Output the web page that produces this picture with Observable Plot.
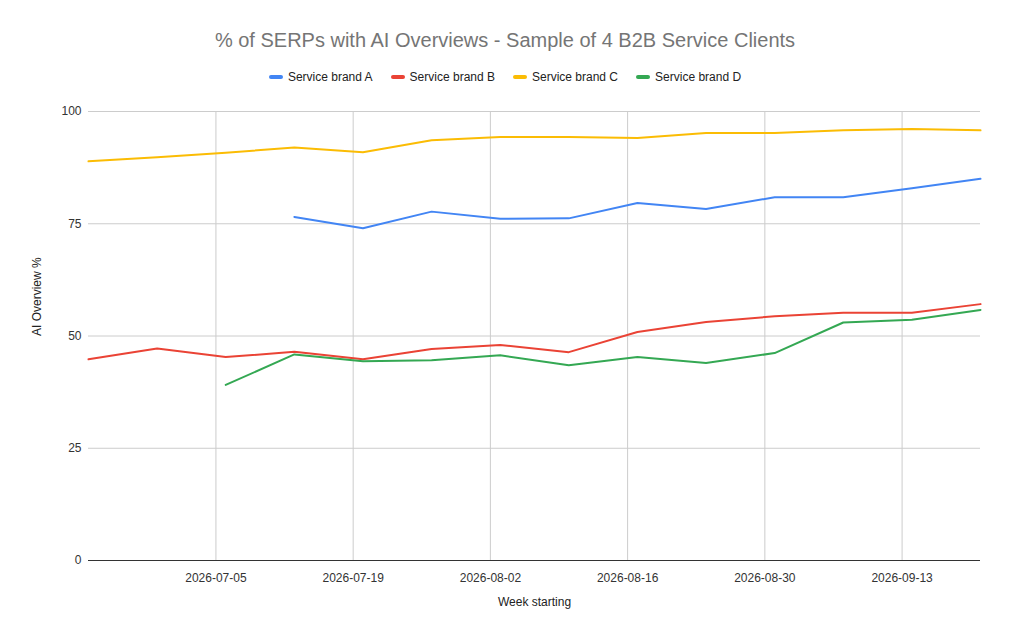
<!DOCTYPE html>
<html>
<head>
<meta charset="utf-8">
<script src="https://cdn.jsdelivr.net/npm/d3@7"></script>
<script src="https://cdn.jsdelivr.net/npm/@observablehq/plot@0.6"></script>
<style>
  html, body { margin: 0; padding: 0; background: #fff; }
  body { width: 1010px; height: 640px; position: relative; overflow: hidden; font-family: "Liberation Sans", Arial, sans-serif; }
  #title { position: absolute; left: 0; top: 28px; width: 1010px; text-align: center; font-size: 20px; line-height: 24px; color: #757575; }
  #legend { position: absolute; left: 0; top: 69px; width: 1010px; display: flex; justify-content: center; font-size: 12px; line-height: 16px; color: #222; }
  #legend .item { display: flex; align-items: center; margin: 0 9px; }
  #legend .sw { width: 14px; height: 4px; border-radius: 2px; margin-right: 5px; }
  #chart { position: absolute; left: 0; top: 95px; }
</style>
</head>
<body>
<div id="title">% of SERPs with AI Overviews - Sample of 4 B2B Service Clients</div>
<div id="legend"></div>
<div id="chart"></div>
<script>
const weeks = ["2026-06-22","2026-06-29","2026-07-06","2026-07-13","2026-07-20","2026-07-27","2026-08-03","2026-08-10","2026-08-17","2026-08-24","2026-08-31","2026-09-07","2026-09-14","2026-09-21"];
const seriesNames = ["Service brand A","Service brand B","Service brand C","Service brand D"];
const seriesColors = ["#4285F4","#EA4335","#FBBC04","#34A853"];
const brandA = [null, null, null, 76.5, 74.0, 77.7, 76.1, 76.2, 79.6, 78.3, 80.9, 80.9, 82.9, 85.0];
const brandB = [44.8, 47.2, 45.3, 46.5, 44.8, 47.1, 48.0, 46.4, 50.9, 53.1, 54.4, 55.2, 55.2, 57.1];
const brandC = [88.9, 89.8, 90.8, 92.0, 90.9, 93.6, 94.3, 94.3, 94.1, 95.2, 95.2, 95.8, 96.1, 95.8];
const brandD = [null, null, 39.1, 45.9, 44.4, 44.6, 45.7, 43.5, 45.3, 44.0, 46.2, 53.0, 53.6, 55.8];
const xTickLabels = ["2026-07-05","2026-07-19","2026-08-02","2026-08-16","2026-08-30","2026-09-13"];
const yTicks = [0, 25, 50, 75, 100];
const xDomain = ["2026-06-22", "2026-09-21"];

const seriesValues = [brandA, brandB, brandC, brandD];
const data = [];
seriesValues.forEach((vals, i) => {
  vals.forEach((v, j) => {
    data.push({series: seriesNames[i], date: new Date(weeks[j]), value: v});
  });
});
const xTicks = xTickLabels.map(d => new Date(d));

// legend
const legend = document.getElementById("legend");
seriesNames.forEach((n, i) => {
  const it = document.createElement("div");
  it.className = "item";
  it.innerHTML = `<span class="sw" style="background:${seriesColors[i]}"></span><span>${n}</span>`;
  legend.appendChild(it);
});

const fmt = d3.utcFormat("%Y-%m-%d");
const chart = Plot.plot({
  width: 1010,
  height: 545,
  marginTop: 16,
  marginBottom: 80,
  marginLeft: 88,
  marginRight: 30,
  style: {fontFamily: "'Liberation Sans', Arial, sans-serif", fontSize: "12px", color: "#333", background: "#fff"},
  x: {type: "utc", domain: xDomain.map(d => new Date(d))},
  y: {domain: [0, 100]},
  color: {domain: seriesNames, range: seriesColors},
  marks: [
    Plot.gridX(xTicks, {stroke: "#cccccc", strokeOpacity: 1}),
    Plot.gridY(yTicks.filter(d => d > 0), {stroke: "#cccccc", strokeOpacity: 1}),
    Plot.axisX(xTicks, {tickSize: 0, tickPadding: 13, tickFormat: fmt, label: null, fill: "#333"}),
    Plot.axisY(yTicks, {tickSize: 0, tickPadding: 7, label: null, fill: "#333"}),
    Plot.ruleY([0], {stroke: "#333", strokeWidth: 1}),
    Plot.lineY(data, {x: "date", y: "value", z: "series", stroke: "series", strokeWidth: 2, strokeLinejoin: "round", strokeLinecap: "round"}),
    Plot.text(["Week starting"], {frameAnchor: "bottom", dy: 45, fill: "#222"}),
    Plot.text(["AI Overview %"], {frameAnchor: "left", dx: -51, rotate: -90, fill: "#222"})
  ]
});
document.getElementById("chart").appendChild(chart);
</script>
</body>
</html>
